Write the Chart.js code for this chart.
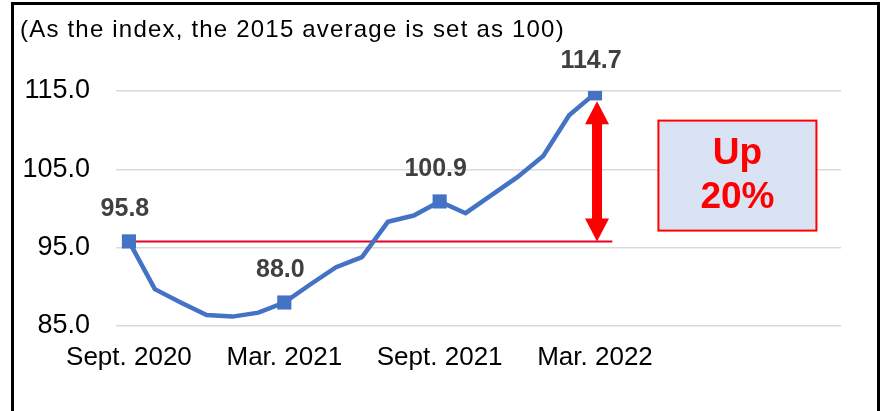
<!DOCTYPE html>
<html>
<head>
<meta charset="utf-8">
<script src="https://cdn.jsdelivr.net/npm/chart.js@4/dist/chart.umd.min.js"></script>
<style>
  body { margin: 0; background: #fff; overflow: hidden; }
  #wrap { position: relative; width: 885px; height: 411px; }
  #frame { position: absolute; left: 11px; top: 2px; width: 869px; height: 430px; border: 3px solid #000; border-bottom: none; box-sizing: border-box; pointer-events: none; }
  canvas { position: absolute; left: 0; top: 0; }
</style>
</head>
<body>
<div id="wrap">
  <canvas id="chart" width="885" height="411"></canvas>
  <div id="frame"></div>
</div>
<script>
const months = ['Sept. 2020', 'Oct. 2020', 'Nov. 2020', 'Dec. 2020', 'Jan. 2021', 'Feb. 2021',
  'Mar. 2021', 'Apr. 2021', 'May 2021', 'June 2021', 'July 2021', 'Aug. 2021',
  'Sept. 2021', 'Oct. 2021', 'Nov. 2021', 'Dec. 2021', 'Jan. 2022', 'Feb. 2022',
  'Mar. 2022', 'Apr. 2022', 'May 2022', 'June 2022', 'July 2022', 'Aug. 2022',
  'Sept. 2022', 'Oct. 2022', 'Nov. 2022', 'Dec. 2022'];
const shownTicks = ['Sept. 2020', 'Mar. 2021', 'Sept. 2021', 'Mar. 2022'];
const indexValues = [95.8, 89.7, 88.0, 86.4, 86.2, 86.7, 88.0, 90.3, 92.5, 93.8, 98.3, 99.1,
  100.9, 99.4, 101.7, 104.0, 106.7, 111.9, 114.7];
const markedPoints = [0, 6, 12, 18];
const yTicks = [85, 95, 105, 115];
const titleText = '(As the index, the 2015 average is set as 100)';
const calloutLines = ['Up', '20%'];

const FONT = '"Liberation Sans", Arial, sans-serif';

const extras = {
  id: 'extras',
  beforeDatasetsDraw(chart) {
    const ctx = chart.ctx, x = chart.scales.x, y = chart.scales.y;
    const step = x.getPixelForValue(1) - x.getPixelForValue(0);
    const last = indexValues.length - 1;
    // base line at the starting level
    const by = y.getPixelForValue(indexValues[0]);
    ctx.save();
    ctx.strokeStyle = 'rgb(230,0,38)';
    ctx.lineWidth = 2;
    ctx.beginPath();
    ctx.moveTo(x.getPixelForValue(0), by);
    ctx.lineTo(x.getPixelForValue(last) + step * 0.67, by);
    ctx.stroke();
    ctx.restore();
  },
  afterDatasetsDraw(chart) {
    const ctx = chart.ctx, x = chart.scales.x, y = chart.scales.y;
    const last = indexValues.length - 1;
    ctx.save();
    // title
    ctx.fillStyle = '#000';
    ctx.font = '24px ' + FONT;
    ctx.textBaseline = 'alphabetic';
    ctx.textAlign = 'left';
    if ('letterSpacing' in ctx) ctx.letterSpacing = '1.2px';
    ctx.fillText(titleText, 20, 37);
    if ('letterSpacing' in ctx) ctx.letterSpacing = '0px';

    // value labels
    ctx.fillStyle = '#404040';
    ctx.font = 'bold 25px ' + FONT;
    ctx.textAlign = 'center';
    ctx.textBaseline = 'middle';
    markedPoints.forEach(i => {
      ctx.fillText(indexValues[i].toFixed(1), x.getPixelForValue(i) - 4, y.getPixelForValue(indexValues[i]) - 32);
    });

    // double arrow
    const ax = x.getPixelForValue(last) + 2;
    const top = y.getPixelForValue(indexValues[last]) + 8;
    const bot = y.getPixelForValue(indexValues[0]);
    const hw = 12, hh = 23;
    ctx.fillStyle = '#FF0000';
    ctx.fillRect(ax - 5, top + hh - 1, 10, bot - top - 2 * hh + 2);
    ctx.beginPath();
    ctx.moveTo(ax, top); ctx.lineTo(ax + hw, top + hh); ctx.lineTo(ax - hw, top + hh); ctx.closePath();
    ctx.fill();
    ctx.beginPath();
    ctx.moveTo(ax, bot); ctx.lineTo(ax + hw, bot - hh); ctx.lineTo(ax - hw, bot - hh); ctx.closePath();
    ctx.fill();

    // callout box
    const cx = x.getPixelForValue(23) + (x.getPixelForValue(24) - x.getPixelForValue(23)) / 2;
    const cy = y.getPixelForValue(104.2);
    const bw = 158, bh = 110;
    ctx.fillStyle = '#DAE3F3';
    ctx.fillRect(cx - bw / 2, cy - bh / 2, bw, bh);
    ctx.strokeStyle = '#FF0000';
    ctx.lineWidth = 2;
    ctx.strokeRect(cx - bw / 2, cy - bh / 2, bw, bh);
    ctx.fillStyle = '#FF0000';
    ctx.font = 'bold 37px ' + FONT;
    ctx.fillText(calloutLines[0], cx, cy - 22);
    ctx.fillText(calloutLines[1], cx, cy + 22);
    ctx.restore();
  }
};

new Chart(document.getElementById('chart'), {
  type: 'line',
  data: {
    labels: months,
    datasets: [{
      data: indexValues,
      borderColor: '#4472C4',
      backgroundColor: '#4472C4',
      borderWidth: 4.5,
      tension: 0,
      pointStyle: 'rect',
      pointRadius: indexValues.map((v, i) => markedPoints.includes(i) ? 10 : 0),
      pointBorderWidth: 0
    }]
  },
  options: {
    responsive: false,
    animation: false,
    layout: { padding: { top: 91, right: 44, bottom: 0, left: 0 } },
    plugins: { legend: { display: false }, tooltip: { enabled: false } },
    scales: {
      x: {
        offset: true,
        grid: { display: false },
        border: { display: false },
        afterFit(scale) { scale.height = 85; },
        ticks: {
          autoSkip: false,
          maxRotation: 0,
          padding: 8,
          color: '#000',
          font: { family: FONT, size: 26 },
          callback(v) { const l = months[v]; return shownTicks.includes(l) ? l : ''; }
        }
      },
      y: {
        min: 85,
        max: 115,
        grid: { color: '#D9D9D9', lineWidth: 1.5, drawTicks: false },
        border: { display: false },
        afterFit(scale) { scale.width = 116; },
        afterBuildTicks(scale) { scale.ticks = yTicks.map(v => ({ value: v })); },
        ticks: {
          padding: 26,
          color: '#000',
          font: { family: FONT, size: 27 },
          callback(v) { return Number(v).toFixed(1); }
        }
      }
    }
  },
  plugins: [extras]
});
</script>
</body>
</html>
